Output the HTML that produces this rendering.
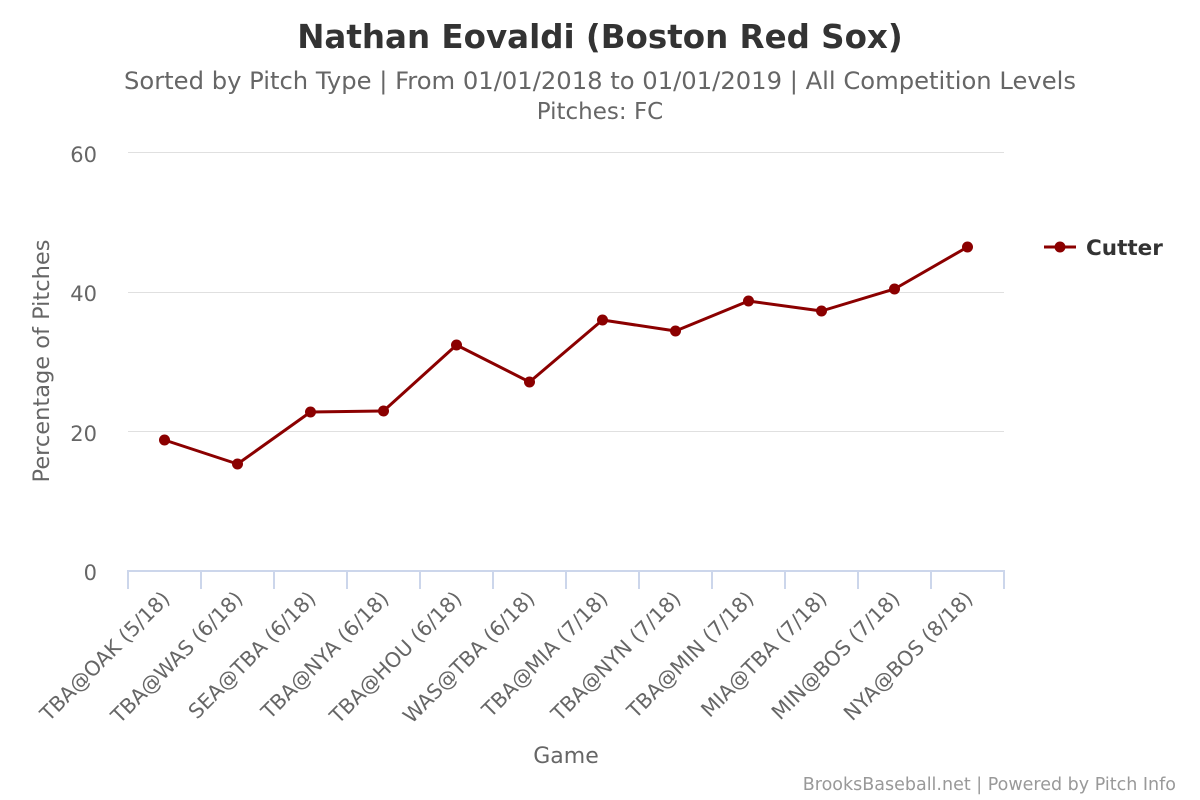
<!DOCTYPE html>
<html><head><meta charset="utf-8"><style>body{margin:0;background:#fff}svg{display:block;font-family:"DejaVu Sans","Liberation Sans",sans-serif}</style></head>
<body>
<svg width="1200" height="800" xmlns="http://www.w3.org/2000/svg">
<rect width="1200" height="800" fill="#fff"/>
<text x="600" y="48" text-anchor="middle" font-size="32.5" font-weight="bold" fill="#333">Nathan Eovaldi (Boston Red Sox)</text>
<text x="600" y="89" text-anchor="middle" font-size="24" fill="#666" textLength="952" lengthAdjust="spacingAndGlyphs">Sorted by Pitch Type | From 01/01/2018 to 01/01/2019 | All Competition Levels</text>
<text x="600" y="119" text-anchor="middle" font-size="23" fill="#666">Pitches: FC</text>
<g stroke="#e0e0e0" stroke-width="1">
<line x1="128" x2="1004" y1="152.5" y2="152.5"/>
<line x1="128" x2="1004" y1="292.5" y2="292.5"/>
<line x1="128" x2="1004" y1="431.5" y2="431.5"/>
</g>
<g font-size="21" fill="#666" text-anchor="end">
<text x="97" y="162">60</text><text x="97" y="301">40</text><text x="97" y="441">20</text><text x="97" y="580">0</text>
</g>
<text transform="translate(49 361) rotate(-90)" text-anchor="middle" font-size="22.5" fill="#666">Percentage of Pitches</text>
<g stroke="#ccd6eb" stroke-width="2">
<line x1="127" x2="1005" y1="571" y2="571"/>
<line x1="128" x2="128" y1="571" y2="589"/><line x1="201" x2="201" y1="571" y2="589"/><line x1="274" x2="274" y1="571" y2="589"/><line x1="347" x2="347" y1="571" y2="589"/><line x1="420" x2="420" y1="571" y2="589"/><line x1="493" x2="493" y1="571" y2="589"/><line x1="566" x2="566" y1="571" y2="589"/><line x1="639" x2="639" y1="571" y2="589"/><line x1="712" x2="712" y1="571" y2="589"/><line x1="785" x2="785" y1="571" y2="589"/><line x1="858" x2="858" y1="571" y2="589"/><line x1="931" x2="931" y1="571" y2="589"/><line x1="1004" x2="1004" y1="571" y2="589"/>
</g>
<g font-size="20.5" fill="#666" text-anchor="end">
<text transform="translate(171 600) rotate(-45)">TBA@OAK (5/18)</text>
<text transform="translate(244 600) rotate(-45)">TBA@WAS (6/18)</text>
<text transform="translate(317 600) rotate(-45)">SEA@TBA (6/18)</text>
<text transform="translate(390 600) rotate(-45)">TBA@NYA (6/18)</text>
<text transform="translate(463 600) rotate(-45)">TBA@HOU (6/18)</text>
<text transform="translate(536 600) rotate(-45)">WAS@TBA (6/18)</text>
<text transform="translate(609 600) rotate(-45)">TBA@MIA (7/18)</text>
<text transform="translate(682 600) rotate(-45)">TBA@NYN (7/18)</text>
<text transform="translate(755 600) rotate(-45)">TBA@MIN (7/18)</text>
<text transform="translate(828 600) rotate(-45)">MIA@TBA (7/18)</text>
<text transform="translate(901 600) rotate(-45)">MIN@BOS (7/18)</text>
<text transform="translate(974 600) rotate(-45)">NYA@BOS (8/18)</text>
</g>
<text x="566" y="763" text-anchor="middle" font-size="22" fill="#666">Game</text>
<polyline fill="none" stroke="#8b0000" stroke-width="3" stroke-linejoin="round" points="164.5,440 237.5,464 310.5,412 383.5,411 456.5,345 529.5,382 602.5,320 675.5,331 748.5,301 821.5,311 894.5,289 967.5,247"/>
<g fill="#8b0000">
<circle cx="164.5" cy="440" r="5.5"/><circle cx="237.5" cy="464" r="5.5"/><circle cx="310.5" cy="412" r="5.5"/><circle cx="383.5" cy="411" r="5.5"/><circle cx="456.5" cy="345" r="5.5"/><circle cx="529.5" cy="382" r="5.5"/><circle cx="602.5" cy="320" r="5.5"/><circle cx="675.5" cy="331" r="5.5"/><circle cx="748.5" cy="301" r="5.5"/><circle cx="821.5" cy="311" r="5.5"/><circle cx="894.5" cy="289" r="5.5"/><circle cx="967.5" cy="247" r="5.5"/>
</g>
<line x1="1044" x2="1076" y1="247" y2="247" stroke="#8b0000" stroke-width="3"/>
<circle cx="1060" cy="247" r="5.5" fill="#8b0000"/>
<text x="1086" y="255" font-size="21.5" font-weight="bold" fill="#333">Cutter</text>
<text x="1176" y="790" text-anchor="end" font-size="17.5" fill="#999">BrooksBaseball.net | Powered by Pitch Info</text>
</svg>
</body></html>
